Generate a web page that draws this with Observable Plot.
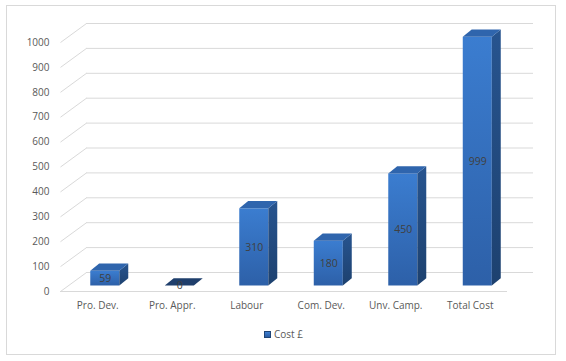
<!DOCTYPE html>
<html>
<head>
<meta charset="utf-8">
<script src="https://cdn.jsdelivr.net/npm/d3@7"></script>
<script src="https://cdn.jsdelivr.net/npm/@observablehq/plot@0.6"></script>
<style>
  html, body { margin: 0; padding: 0; background: #ffffff; }
  body { width: 566px; height: 361px; position: relative; overflow: hidden; font-family: "Open Sans", sans-serif; }
  #frame { position: absolute; left: 6px; top: 5px; width: 548px; height: 348px; border: 1px solid #d9d9d9; pointer-events: none; }
  #chart { position: absolute; left: 0; top: 0; }
  #legend { position: absolute; left: 264px; top: 327px; font: 10px "Open Sans", sans-serif; color: #595959; display: flex; align-items: center; gap: 3px; }
  #legend .sw { width: 7px; height: 7px; background: linear-gradient(#3d7fd2, #2a5ca2); border: 0.5px solid #1f4476; box-sizing: border-box; }
</style>
</head>
<body>
<div id="frame"></div>
<div id="chart"></div>
<div id="legend"><span class="sw"></span><span id="legtext"></span></div>
<script>
// ---- data ----
const categories = ["Pro. Dev.", "Pro. Appr.", "Labour", "Com. Dev.", "Unv. Camp.", "Total Cost"];
const costs = [59, 0, 310, 180, 450, 999];
const yTicks = [0, 100, 200, 300, 400, 500, 600, 700, 800, 900, 1000];
const seriesName = "Cost £";

// ---- oblique 3D projection (style constants, in scale units) ----
const WALL_DX = 0.349;  // floor depth, x (category) units
const WALL_DY = 76.3;   // floor depth, y (value) units
const BAR_POS = 0.29;   // fraction of depth where bar front sits
const BAR_HALF = 0.195; // half bar width in category units
const BAR_DX = 0.12, BAR_DY = 29; // bar's own depth

const bars = categories.map((c, i) => {
  const cx = i + 0.5 + BAR_POS * WALL_DX;
  const b = BAR_POS * WALL_DY;
  return {c, v: costs[i], l: cx - BAR_HALF, r: cx + BAR_HALF, b, t: b + costs[i], cx};
});
const sidePts = bars.flatMap(d => [
  {c: d.c, v: d.v, x: d.r, y1: d.b, y2: d.t},
  {c: d.c, v: d.v, x: d.r + BAR_DX, y1: d.b + BAR_DY, y2: d.t + BAR_DY}
]);
const topPts = bars.flatMap(d => [
  {c: d.c, v: d.v, y: d.t, x1: d.l, x2: d.r},
  {c: d.c, v: d.v, y: d.t + BAR_DY, x1: d.l + BAR_DX, x2: d.r + BAR_DX}
]);
const shadowPts = bars.flatMap(d => [
  {c: d.c, y: d.b - 10, x1: d.l - 0.13, x2: d.r + 0.02},
  {c: d.c, y: d.b + BAR_DY - 4, x1: d.l - 0.05 + BAR_DX, x2: d.r + BAR_DX + 0.1}
]);

const grid = "#d9d9d9";
const plot = Plot.plot({
  width: 566,
  height: 361,
  marginLeft: 60,
  marginRight: 59,
  marginTop: 42,
  marginBottom: 70,
  style: {color: "#595959", fontFamily: "Open Sans, sans-serif", fontSize: "10px", background: "transparent"},
  x: {domain: [0, categories.length]},
  y: {domain: [0, 1000]},
  marks: [
    // back wall gridlines
    Plot.ruleY(yTicks, {y: d => d + WALL_DY, x1: WALL_DX, x2: categories.length + WALL_DX, stroke: grid, strokeWidth: 1}),
    // side wall diagonals
    Plot.link(yTicks, {x1: 0, y1: d => d, x2: WALL_DX, y2: d => d + WALL_DY, stroke: grid, strokeWidth: 1}),
    // front floor edge
    Plot.ruleY([0], {x1: 0, x2: categories.length, stroke: grid, strokeWidth: 1}),
    // shadows
    Plot.areaX(shadowPts, {y: "y", x1: "x1", x2: "x2", z: "c", fill: "#6b6b6b", fillOpacity: 0.6, ariaLabel: "shadow"}),
    // bar front faces
    Plot.rect(bars, {x1: "l", x2: "r", y1: "b", y2: "t", fill: "url(#gFront)"}),
    // bar side faces
    Plot.areaY(sidePts, {x: "x", y1: "y1", y2: "y2", z: "c", fill: "url(#gSide)"}),
    // bar top faces
    Plot.areaX(topPts, {filter: d => d.v > 0, y: "y", x1: "x1", x2: "x2", z: "c", fill: "#2f65ad"}),
    Plot.areaX(topPts, {filter: d => d.v === 0, y: "y", x1: "x1", x2: "x2", z: "c", fill: "#1f3f6c"}),
    // data labels
    Plot.text(bars, {x: "cx", y: d => d.b + d.v / 2, text: d => String(d.v), fill: "#404040", fontSize: 10.5}),
    // axes
    Plot.axisY(yTicks, {tickSize: 0, tickPadding: 11, fontSize: 10, fill: "#595959", tickFormat: d => String(d)}),
    Plot.axisX(categories.map((_, i) => i + 0.5), {tickSize: 0, tickPadding: 10, fontSize: 10, fill: "#595959", tickFormat: d => categories[Math.round(d - 0.5)]})
  ]
});

// gradients + blur filter
const ns = "http://www.w3.org/2000/svg";
const defs = document.createElementNS(ns, "defs");
defs.innerHTML = `
  <linearGradient id="gFront" x1="0" y1="0" x2="0" y2="1">
    <stop offset="0" stop-color="#3b7dd0"/>
    <stop offset="1" stop-color="#2d60a8"/>
  </linearGradient>
  <linearGradient id="gSide" x1="0" y1="0" x2="0" y2="1">
    <stop offset="0" stop-color="#27548f"/>
    <stop offset="1" stop-color="#1d416f"/>
  </linearGradient>
  <filter id="blur" x="-50%" y="-50%" width="200%" height="200%">
    <feGaussianBlur stdDeviation="2.2"/>
  </filter>`;
plot.insertBefore(defs, plot.firstChild);
const sh = plot.querySelector('g[aria-label="shadow"]');
if (sh) sh.setAttribute("filter", "url(#blur)");

document.getElementById("chart").appendChild(plot);
document.getElementById("legtext").textContent = seriesName;
</script>
</body>
</html>
